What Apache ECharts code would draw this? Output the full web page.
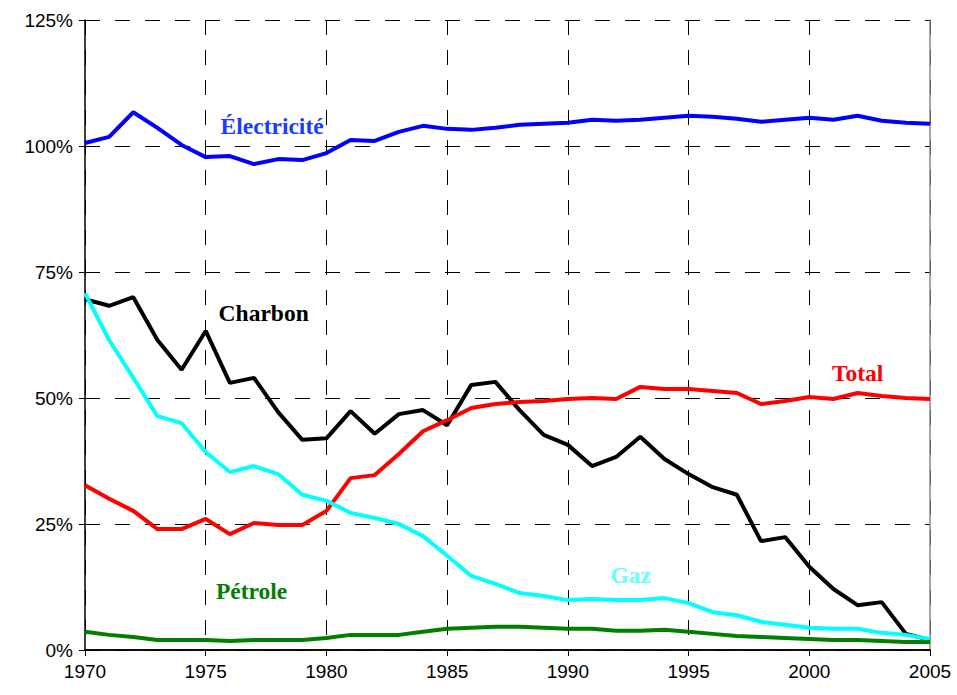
<!DOCTYPE html>
<html>
<head>
<meta charset="utf-8">
<script src="https://cdn.jsdelivr.net/npm/echarts@6/dist/echarts.min.js"></script>
<style>
  html, body { margin: 0; padding: 0; background: #fff; }
  #chart { width: 957px; height: 695px; }
</style>
</head>
<body>
<div id="chart"></div>
<script>
var years = [1970, 1971, 1972, 1973, 1974, 1975, 1976, 1977, 1978, 1979,
  1980, 1981, 1982, 1983, 1984, 1985, 1986, 1987, 1988, 1989,
  1990, 1991, 1992, 1993, 1994, 1995, 1996, 1997, 1998, 1999,
  2000, 2001, 2002, 2003, 2004, 2005];

var electricite = [100.6, 101.8, 106.7, 103.6, 100.2, 97.8, 98.0, 96.4, 97.4, 97.2,
  98.6, 101.2, 101.0, 102.8, 104.0, 103.4, 103.2, 103.6, 104.2, 104.4,
  104.6, 105.2, 105.0, 105.2, 105.6, 106.0, 105.8, 105.4, 104.8, 105.2,
  105.6, 105.2, 106.0, 105.0, 104.6, 104.4];

var charbon = [69.6, 68.3, 70.0, 61.5, 55.6, 63.3, 53.0, 54.0, 47.2, 41.7,
  42.0, 47.4, 42.9, 46.8, 47.6, 44.6, 52.6, 53.2, 47.6, 42.7,
  40.7, 36.5, 38.3, 42.3, 37.9, 34.9, 32.3, 30.8, 21.6, 22.4,
  16.5, 12.1, 8.9, 9.5, 3.2, 2.0];

var total = [32.7, 30.0, 27.6, 24.0, 24.0, 26.0, 23.0, 25.2, 24.8, 24.8,
  27.6, 34.1, 34.7, 38.9, 43.4, 45.6, 48.0, 48.8, 49.2, 49.4,
  49.8, 50.0, 49.8, 52.2, 51.8, 51.8, 51.4, 51.0, 48.8, 49.4,
  50.2, 49.8, 51.0, 50.4, 50.0, 49.8];

var gaz = [70.8, 61.5, 54.0, 46.4, 45.0, 39.3, 35.3, 36.5, 34.9, 30.8,
  29.6, 27.2, 26.2, 25.0, 22.6, 18.7, 14.7, 13.1, 11.3, 10.7,
  9.9, 10.1, 9.9, 9.9, 10.3, 9.3, 7.5, 6.9, 5.6, 5.0,
  4.4, 4.2, 4.2, 3.4, 3.0, 2.2];

var petrole = [3.6, 3.0, 2.6, 2.0, 2.0, 2.0, 1.8, 2.0, 2.0, 2.0,
  2.4, 3.0, 3.0, 3.0, 3.6, 4.2, 4.4, 4.6, 4.6, 4.4,
  4.2, 4.2, 3.8, 3.8, 4.0, 3.6, 3.2, 2.8, 2.6, 2.4,
  2.2, 2.0, 2.0, 1.8, 1.6, 1.6];

var yTicks = [0, 25, 50, 75, 100, 125];

function pairs(vals) {
  return years.map(function(y, i) { return [y, vals[i]]; });
}

var labelFont = '"Liberation Serif", "Times New Roman", serif';
var tickFont = '"Liberation Sans", Arial, sans-serif';
var gridDash = { color: '#000', type: [15, 15], width: 1 };

function tag(text, color, at) {
  return {
    symbol: 'circle',
    symbolSize: 0,
    silent: true,
    label: {
      show: true,
      position: 'inside',
      formatter: text,
      color: color,
      fontFamily: labelFont,
      fontWeight: 'bold',
      fontSize: 23.5
    },
    data: [{ coord: at }]
  };
}

function line(name, vals, color, labelText, labelColor, labelAt) {
  return {
    name: name,
    type: 'line',
    data: pairs(vals),
    showSymbol: false,
    symbol: 'none',
    lineStyle: { color: color, width: 4 },
    itemStyle: { color: color },
    markPoint: tag(labelText, labelColor, labelAt),
    z: 3
  };
}

var chart = echarts.init(document.getElementById('chart'), null, { renderer: 'svg' });
chart.setOption({
  animation: false,
  backgroundColor: '#fff',
  grid: { left: 85, right: 27, top: 20, bottom: 45, containLabel: false },
  xAxis: [
    {
      type: 'value',
      min: 1970,
      max: 2005,
      interval: 5,
      axisLine: { show: true, lineStyle: { color: '#000', width: 1.5 } },
      axisTick: { show: true, length: 6, lineStyle: { color: '#000' } },
      axisLabel: {
        color: '#000',
        fontFamily: tickFont,
        fontSize: 19,
        margin: 12,
        formatter: function(v) { return String(v); }
      },
      splitLine: { show: true, lineStyle: gridDash }
    },
    {
      type: 'value',
      position: 'top',
      min: 1970,
      max: 2005,
      interval: 5,
      axisLine: { show: true, lineStyle: { color: '#000', width: 1.5 } },
      axisTick: { show: false },
      axisLabel: { show: false },
      splitLine: { show: false }
    }
  ],
  yAxis: [
    {
      type: 'value',
      min: 0,
      max: 125,
      interval: 25,
      axisLine: { show: true, lineStyle: { color: '#000', width: 1.5 } },
      axisTick: { show: true, length: 6, lineStyle: { color: '#000' } },
      axisLabel: {
        color: '#000',
        fontFamily: tickFont,
        fontSize: 19,
        margin: 12,
        formatter: function(v) { return yTicks.indexOf(v) >= 0 ? v + '%' : ''; }
      },
      splitLine: { show: true, lineStyle: gridDash }
    },
    {
      type: 'value',
      position: 'right',
      min: 0,
      max: 125,
      interval: 25,
      axisLine: { show: true, lineStyle: { color: '#888', width: 1.5 } },
      axisTick: { show: false },
      axisLabel: { show: false },
      splitLine: { show: false }
    }
  ],
  series: [
    line('Électricité', electricite, '#0000ff', 'Électricité', '#1a3cff', [1977.75, 104.0]),
    line('Charbon', charbon, '#000000', 'Charbon', '#000000', [1977.4, 66.9]),
    line('Total', total, '#ff0000', 'Total', '#ff0000', [2002, 55.0]),
    line('Gaz', gaz, '#00ffff', 'Gaz', '#66ffff', [1992.6, 14.9]),
    line('Pétrole', petrole, '#008000', 'Pétrole', '#008000', [1976.9, 11.7])
  ]
});
window.addEventListener('resize', function() { chart.resize(); });
</script>
</body>
</html>
